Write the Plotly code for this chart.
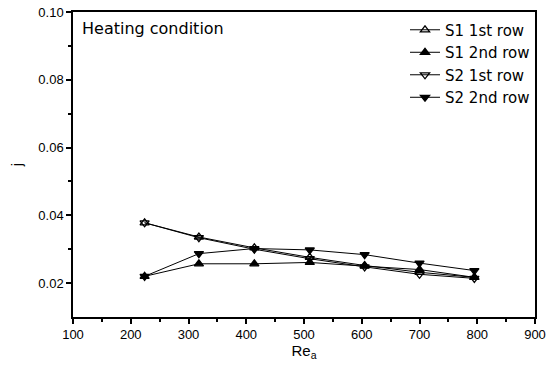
import plotly.graph_objects as go

re_a = [224, 318, 414, 510, 605, 700, 795]
s1_row1 = [0.0378, 0.0336, 0.0304, 0.0276, 0.0252, 0.0232, 0.0217]
s1_row2 = [0.0220, 0.0257, 0.0257, 0.0261, 0.0250, 0.0240, 0.0217]
s2_row1 = [0.0378, 0.0334, 0.0300, 0.0272, 0.0248, 0.0226, 0.0214]
s2_row2 = [0.0220, 0.0287, 0.0302, 0.0298, 0.0284, 0.0259, 0.0237]

names = ["S1 1st row", "S1 2nd row", "S2 1st row", "S2 2nd row"]
symbols = ["triangle-up-open", "triangle-up", "triangle-down-open", "triangle-down"]
series = [s1_row1, s1_row2, s2_row1, s2_row2]

FONT = "Liberation Sans"
WIDE = "DejaVu Sans"

fig = go.Figure()
for n, s, ys in zip(names, symbols, series):
    fig.add_trace(go.Scatter(
        x=re_a, y=ys, name=n, mode="lines+markers",
        line=dict(color="black", width=1),
        marker=dict(symbol=s, size=8, color="black", line=dict(color="black", width=1.3)),
    ))

fig.update_layout(
    width=554, height=367,
    margin=dict(l=73, r=19, t=12, b=50, autoexpand=False),
    plot_bgcolor="white", paper_bgcolor="white",
    font=dict(family=FONT, color="black", size=13),
    showlegend=True,
    legend=dict(x=1.0, y=0.995, xanchor="right", yanchor="top",
                bgcolor="rgba(0,0,0,0)", font=dict(family=WIDE, size=15),
                itemwidth=30, tracegroupgap=0),
    annotations=[dict(text="Heating condition", x=0.015, y=0.985, xref="paper", yref="paper",
                      xanchor="left", yanchor="top", showarrow=False,
                      font=dict(family=WIDE, size=16))],
)
fig.update_xaxes(
    range=[100, 900], tickvals=[100, 200, 300, 400, 500, 600, 700, 800, 900],
    showgrid=False, zeroline=False, showline=True, linecolor="black", linewidth=1.5,
    mirror=True, ticks="outside", ticklen=5, tickwidth=1.5, tickcolor="black",
    tickfont=dict(family=FONT, size=13),
    minor=dict(dtick=50, ticks="outside", ticklen=3, tickcolor="black", showgrid=False),
    title=dict(text="Re<sub>a</sub>", font=dict(family=FONT, size=15), standoff=0),
)
fig.update_yaxes(
    range=[0.01, 0.10], tickvals=[0.02, 0.04, 0.06, 0.08, 0.10], tickformat=".2f",
    showgrid=False, zeroline=False, showline=True, linecolor="black", linewidth=1.5,
    mirror=True, ticks="outside", ticklen=5, tickwidth=1.5, tickcolor="black",
    tickfont=dict(family=FONT, size=13),
    minor=dict(tickvals=[0.03, 0.05, 0.07, 0.09], ticks="outside", ticklen=3, tickcolor="black", showgrid=False),
    title=dict(text="j", font=dict(family=FONT, size=15), standoff=12),
)
fig.write_html("out.html", config={"displayModeBar": False},
               post_script="document.body.style.margin='0';document.body.style.padding='0';")
